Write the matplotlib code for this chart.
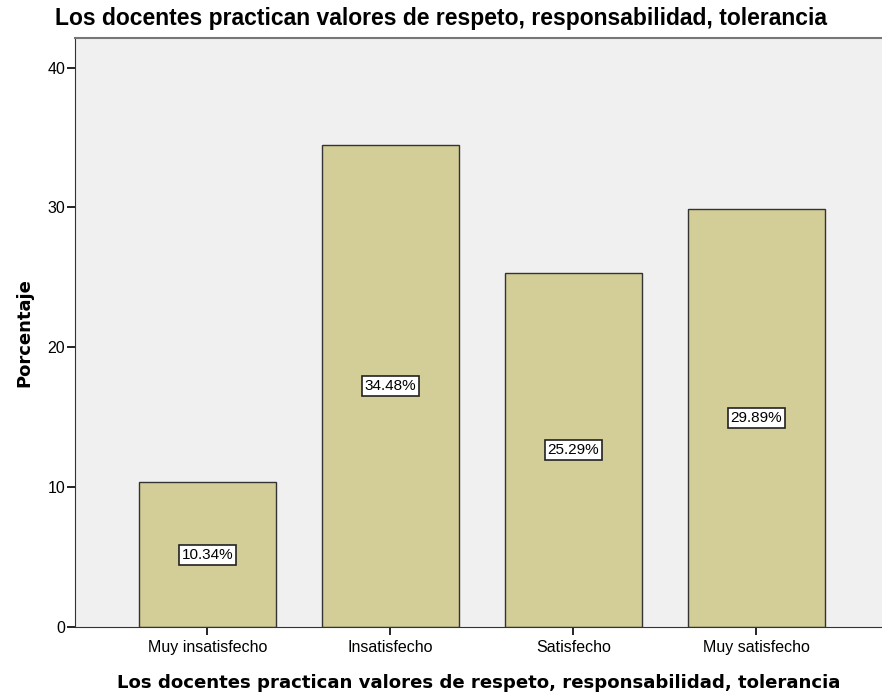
import numpy as np
import matplotlib
matplotlib.use("Agg")
import matplotlib.pyplot as plt

# data
categories = ["Muy insatisfecho", "Insatisfecho", "Satisfecho", "Muy satisfecho"]
porcentajes = [10.34, 34.48, 25.29, 29.89]
yticks = [0, 10, 20, 30, 40]
titulo = "Los docentes practican valores de respeto, responsabilidad, tolerancia"

plt.rcParams["font.family"] = ["Liberation Sans", "DejaVu Sans"]

fig = plt.figure(figsize=(8.82, 6.94), dpi=100)
ax = fig.add_axes([0.085, 0.0965, 0.915, 0.8485])
ax.set_facecolor("#F0F0F0")

x = np.arange(len(categories))
ax.bar(x, porcentajes, width=0.75, color="#D3CE97", edgecolor="#333333", linewidth=1.0, zorder=2)

for xi, v in zip(x, porcentajes):
    ax.text(xi, v / 2, f"{v:.2f}%", ha="center", va="center", fontsize=11, zorder=3,
            bbox=dict(boxstyle="square,pad=0.2", facecolor="white", edgecolor="#222222", linewidth=1.2))

ax.set_xlim(-0.724, 3.686)
ax.set_ylim(0, 42.1)
ax.set_yticks(yticks)
ax.set_xticks(x)
ax.set_xticklabels(categories, fontsize=11.5)
ax.tick_params(axis="y", labelsize=11.5, length=6, width=1.2, direction="out", pad=1)
ax.tick_params(axis="x", length=6, width=1.2, direction="out", pad=3)

ax.spines["right"].set_visible(False)
ax.spines["top"].set_color("#777777")
ax.spines["top"].set_linewidth(1.5)
ax.spines["left"].set_color("#333333")
ax.spines["bottom"].set_color("#333333")

fig.text(0.5, 0.973, titulo, ha="center", va="center", fontsize=16.5, fontweight="bold")
ax.set_xlabel(titulo, fontsize=13.1, fontweight="bold", family="DejaVu Sans", labelpad=14)
ax.set_ylabel("Porcentaje", fontsize=13, fontweight="bold", family="DejaVu Sans", labelpad=10)

fig.savefig("out.png", dpi=100, facecolor="white")
